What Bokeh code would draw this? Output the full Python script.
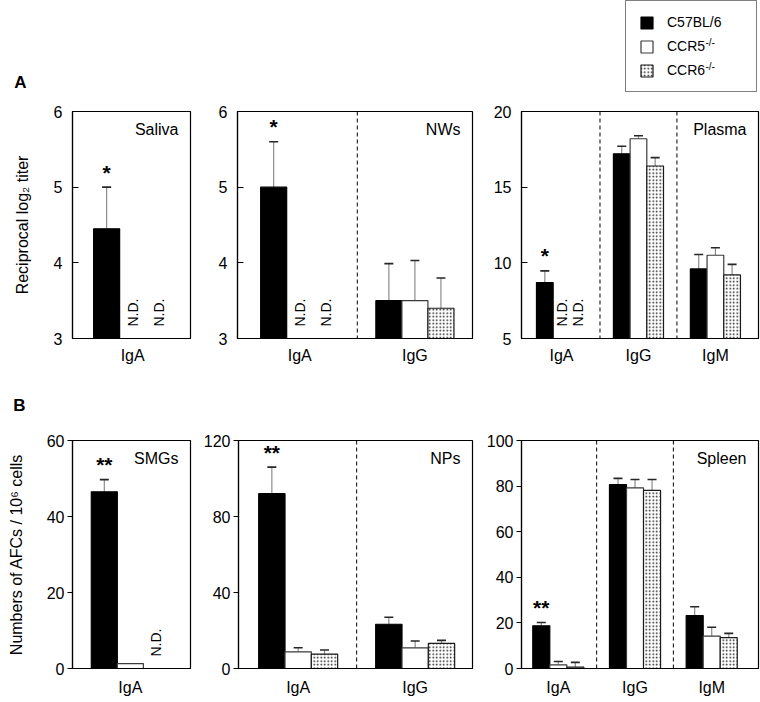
import math
from bokeh.plotting import figure
from bokeh.models import (Range1d, FixedTicker, Whisker, TeeHead, Span, Label,
                          Legend, LegendItem, ColumnDataSource)
from bokeh.layouts import row, column
from bokeh.embed import file_html
from bokeh.resources import INLINE

FONT = "Liberation Sans"

# genotypes (legend)
GENOTYPES = ["C57BL/6", "CCR5", "CCR6"]
GENOTYPE_SUP = ["", "-/-", "-/-"]

# ---------------- Panel A: reciprocal log2 titers ----------------
SALIVA_GROUPS = ["IgA"]
SALIVA_MEAN = [[4.45], [None], [None]]          # C57BL/6, CCR5-/-, CCR6-/-
SALIVA_ERR = [[0.55], [None], [None]]
SALIVA_SIG = ["*"]

NW_GROUPS = ["IgA", "IgG"]
NW_MEAN = [[5.0, 3.5], [None, 3.5], [None, 3.4]]
NW_ERR = [[0.6, 0.49], [None, 0.53], [None, 0.4]]
NW_SIG = ["*", ""]

PLASMA_GROUPS = ["IgA", "IgG", "IgM"]
PLASMA_MEAN = [[8.7, 17.2, 9.6], [None, 18.2, 10.5], [None, 16.4, 9.2]]
PLASMA_ERR = [[0.77, 0.5, 0.95], [None, 0.2, 0.5], [None, 0.55, 0.7]]
PLASMA_SIG = ["*", "", ""]

# ---------------- Panel B: AFCs / 10^6 cells ----------------
SMG_GROUPS = ["IgA"]
SMG_MEAN = [[46.5], [1.3], [None]]
SMG_ERR = [[3.2], [None], [None]]
SMG_SIG = ["**"]

NP_GROUPS = ["IgA", "IgG"]
NP_MEAN = [[92.0, 23.3], [8.8, 10.9], [7.6, 13.2]]
NP_ERR = [[14.0, 3.7], [2.1, 3.6], [2.1, 1.6]]
NP_SIG = ["**", ""]

SPLEEN_GROUPS = ["IgA", "IgG", "IgM"]
SPLEEN_MEAN = [[18.7, 80.7, 23.2], [1.6, 79.2, 14.2], [0.6, 78.1, 13.5]]
SPLEEN_ERR = [[1.5, 2.7, 3.9], [1.5, 3.7, 3.9], [2.1, 4.8, 1.9]]
SPLEEN_SIG = ["**", "", ""]

BAR_STYLES = [
    dict(fill_color="black", line_color="black", line_width=1.2),
    dict(fill_color="white", line_color="#3a3a3a", line_width=1.2),
    dict(fill_color="white", line_color="#1a1a1a", line_width=1.2,
         hatch_pattern="dot", hatch_scale=3.5, hatch_weight=1.5, hatch_color="#1a1a1a"),
]


def make_panel(groups, mean, err, sig, name, yr, yticks, xr, w, size, borders,
               top_row, ylabel=None):
    width, height = size
    bl, br, bt, bb = borders
    p = figure(width=width, height=height, x_range=Range1d(*xr), y_range=Range1d(*yr),
               output_backend="svg", toolbar_location=None,
               min_border_left=bl, min_border_right=br,
               min_border_top=bt, min_border_bottom=bb)
    p.xgrid.visible = False
    p.ygrid.visible = False
    p.outline_line_color = "black"
    p.outline_line_width = 1.2
    p.outline_line_alpha = 1.0

    xa = p.xaxis[0]
    xa.ticker = FixedTicker(ticks=list(range(len(groups))))
    xa.major_label_overrides = {i: g for i, g in enumerate(groups)}
    xa.major_tick_in = 0
    xa.major_tick_out = 0
    xa.minor_tick_line_color = None
    xa.axis_line_color = "black"
    xa.axis_line_width = 1.2
    xa.major_label_text_font = FONT
    xa.major_label_text_font_size = "16px"
    xa.major_label_text_color = "black"
    xa.major_label_standoff = 8 if top_row else 10

    ya = p.yaxis[0]
    ya.ticker = FixedTicker(ticks=yticks)
    ya.minor_tick_line_color = None
    ya.axis_line_color = "black"
    ya.axis_line_width = 1.2
    ya.major_tick_line_color = "black"
    ya.major_tick_line_width = 1.2
    if top_row:
        ya.major_tick_in = 6
        ya.major_tick_out = 0
        ya.major_label_standoff = 10
    else:
        ya.major_tick_in = 0
        ya.major_tick_out = 5
        ya.major_label_standoff = 3
    ya.major_label_text_font = FONT
    ya.major_label_text_font_size = "16px"
    ya.major_label_text_color = "black"
    if ylabel:
        ya.axis_label = ylabel
        ya.axis_label_text_font = FONT
        ya.axis_label_text_font_size = "16px"
        ya.axis_label_text_font_style = "normal"
        ya.axis_label_text_color = "black"
        ya.axis_label_standoff = 20 if top_row else 19

    for i in range(len(groups) - 1):
        p.add_layout(Span(location=i + 0.5, dimension="height", line_color="black",
                          line_width=1, line_dash="4 3"))

    y0 = yr[0]
    for k in range(3):
        xs, tops = [], []
        for gi, m in enumerate(mean[k]):
            if m is not None:
                xs.append(gi + (k - 1) * w)
                tops.append(m)
        if xs:
            p.vbar(x=xs, top=tops, bottom=y0, width=w, **BAR_STYLES[k])

    base, lower, upper = [], [], []
    for k in range(3):
        for gi, (m, e) in enumerate(zip(mean[k], err[k])):
            if m is not None and e:
                base.append(gi + (k - 1) * w)
                lower.append(m)
                upper.append(m + e)
    wsrc = ColumnDataSource(dict(base=base, lower=lower, upper=upper))
    p.add_layout(Whisker(source=wsrc, base="base", lower="lower", upper="upper",
                         dimension="height", line_color="#8c8c8c", line_width=1.2,
                         upper_head=TeeHead(size=9, line_color="#262626", line_width=1.6),
                         lower_head=None))

    for gi, s in enumerate(sig):
        if s:
            m = mean[0][gi]
            e = err[0][gi] or 0
            p.add_layout(Label(x=gi - w, y=m + e, y_offset=15, text=s,
                               text_align="center", text_baseline="middle",
                               text_font=FONT, text_font_size="21px",
                               text_font_style="bold", text_color="black"))

    for k in (1, 2):
        for gi, m in enumerate(mean[k]):
            if m is None:
                p.add_layout(Label(x=gi + (k - 1) * w, y=y0, y_offset=12,
                                   angle=math.pi / 2, text="N.D.",
                                   text_align="left", text_baseline="middle",
                                   text_font=FONT, text_font_size="14px",
                                   text_color="black"))

    p.add_layout(Label(x=xr[1], y=yr[1], x_offset=-12, y_offset=-18, text=name,
                       text_align="right", text_baseline="middle",
                       text_font=FONT, text_font_size="16px", text_color="black"))
    return p


def banner(width, height):
    b = figure(width=width, height=height, x_range=Range1d(0, width),
               y_range=Range1d(0, height), output_backend="svg", toolbar_location=None,
               x_axis_location=None, y_axis_location=None, min_border=0)
    b.outline_line_color = None
    b.xgrid.visible = False
    b.ygrid.visible = False
    return b


W1, W2, W3 = 200, 283, 277
TOP_H, BOT_H = 271, 274
BAN_A_H, BAN_B_H = 101, 56
TB = (10, 34)
BB = (12, 34)

pa1 = make_panel(SALIVA_GROUPS, SALIVA_MEAN, SALIVA_ERR, SALIVA_SIG, "Saliva",
                 (3, 6), [3, 4, 5, 6], (-0.52, 0.50), 0.225, (W1, TOP_H),
                 (72, 10) + TB, True, ylabel="Reciprocal log\u2082 titer")
pa2 = make_panel(NW_GROUPS, NW_MEAN, NW_ERR, NW_SIG, "NWs",
                 (3, 6), [3, 4, 5, 6], (-0.54, 1.50), 0.226, (W2, TOP_H),
                 (37, 11) + TB, True)
pa3 = make_panel(PLASMA_GROUPS, PLASMA_MEAN, PLASMA_ERR, PLASMA_SIG, "Plasma",
                 (5, 20), [5, 10, 15, 20], (-0.52, 2.56), 0.217, (W3, TOP_H),
                 (38, 2) + TB, True)

pb1 = make_panel(SMG_GROUPS, SMG_MEAN, SMG_ERR, SMG_SIG, "SMGs",
                 (0, 60), [0, 20, 40, 60], (-0.50, 0.52), 0.225, (W1, BOT_H),
                 (72, 10) + BB, False, ylabel="Numbers of AFCs / 10\u2076 cells")
pb2 = make_panel(NP_GROUPS, NP_MEAN, NP_ERR, NP_SIG, "NPs",
                 (0, 120), [0, 40, 80, 120], (-0.51, 1.49), 0.225, (W2, BOT_H),
                 (37, 11) + BB, False)
pb3 = make_panel(SPLEEN_GROUPS, SPLEEN_MEAN, SPLEEN_ERR, SPLEEN_SIG, "Spleen",
                 (0, 100), [0, 20, 40, 60, 80, 100], (-0.48, 2.61), 0.222, (W3, BOT_H),
                 (38, 2) + BB, False)

total_w = W1 + W2 + W3

# banner A: section letter + legend
ban_a = banner(total_w, BAN_A_H)
ban_a.add_layout(Label(x=20, y=19, x_units="screen", y_units="screen", text="A",
                       text_align="center", text_baseline="middle", text_font=FONT,
                       text_font_size="17px", text_font_style="bold", text_color="black"))
# legend-only renderers (a single NaN row, so nothing is drawn in the banner itself)
NAN = float("nan")
leg_rends = [ban_a.vbar(x=[NAN], top=[NAN], bottom=0, width=1, **BAR_STYLES[k])
             for k in range(3)]

LEG_X, LEG_Y = 625, 9
LEG_PAD, LEG_GLYPH, LEG_STANDOFF, LEG_SPACING, LEG_ITEM_H = 13, 15, 13, 8, 16
legend = Legend(items=[LegendItem(label=g, renderers=[r]) for g, r in zip(GENOTYPES, leg_rends)],
                location=(LEG_X, LEG_Y), orientation="vertical",
                glyph_width=LEG_GLYPH, glyph_height=LEG_GLYPH, label_height=LEG_ITEM_H,
                label_width=76, label_standoff=LEG_STANDOFF, spacing=LEG_SPACING,
                padding=LEG_PAD, margin=0, border_line_color="black",
                border_line_width=1.2, background_fill_color="white",
                background_fill_alpha=0.0, label_text_font=FONT,
                label_text_font_size="14px", label_text_color="black")
ban_a.add_layout(legend, "center")

leg_h = 2 * LEG_PAD + 3 * LEG_ITEM_H + 2 * LEG_SPACING
for k, sup in enumerate(GENOTYPE_SUP):
    if not sup:
        continue
    cy = LEG_Y + leg_h - LEG_PAD - k * (LEG_ITEM_H + LEG_SPACING) - LEG_ITEM_H / 2
    sx = LEG_X + LEG_PAD + LEG_GLYPH + LEG_STANDOFF + 39
    ban_a.add_layout(Label(x=sx, y=cy + 5, x_units="screen", y_units="screen", text=sup,
                           text_align="left", text_baseline="middle", text_font=FONT,
                           text_font_size="10px", text_color="black"))

# banner B: section letter
ban_b = banner(total_w, BAN_B_H)
ban_b.add_layout(Label(x=19, y=23, x_units="screen", y_units="screen", text="B",
                       text_align="center", text_baseline="middle", text_font=FONT,
                       text_font_size="17px", text_font_style="bold", text_color="black"))

layout = column(ban_a, row(pa1, pa2, pa3), ban_b, row(pb1, pb2, pb3))

open("out.html", "w").write(file_html(layout, INLINE))
